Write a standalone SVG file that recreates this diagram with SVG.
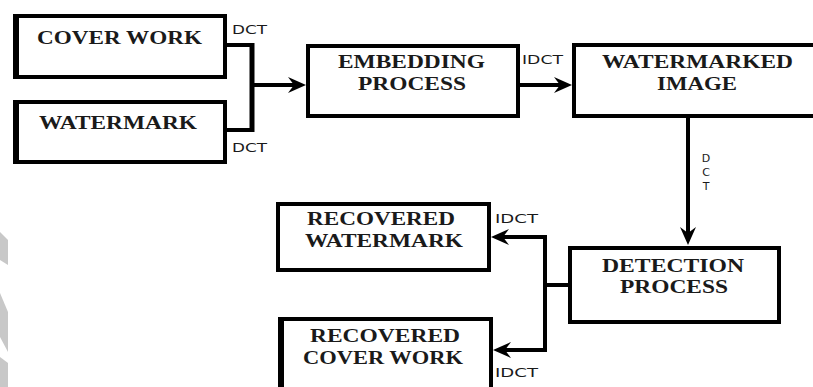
<svg xmlns="http://www.w3.org/2000/svg" width="813" height="387" viewBox="0 0 813 387">
  <style>
    .box { fill: #ffffff; stroke: #000000; stroke-width: 4; }
    .edge { stroke: #000000; stroke-width: 6; }
    .lbl { font-family: "Liberation Serif", "Times New Roman", serif; font-weight: bold; font-size: 18px; fill: #1a1a1a; }
    .tag { font-family: "DejaVu Sans", "Liberation Sans", sans-serif; font-size: 12px; fill: #1a1a1a; }
    .vtag { font-family: "DejaVu Sans", "Liberation Sans", sans-serif; font-size: 11px; fill: #1a1a1a; }
    .wire { fill: none; stroke: #000000; stroke-width: 4; }
    .bus { fill: none; stroke: #000000; stroke-width: 5; }
    .deco { fill: #c8c8c8; }
  </style>
  <defs>
    <marker id="arr" viewBox="-14 -10 22 20" refX="0" refY="0" markerWidth="22" markerHeight="20" markerUnits="userSpaceOnUse" orient="auto">
      <path d="M6,0 L-12,-8 L-6,0 L-12,8 z" fill="#000000"/>
    </marker>
  </defs>
  <rect width="813" height="387" fill="#ffffff"/>

  <g id="decoration">
    <polygon class="deco" points="0,232 8,240 8,265 0,260"/>
    <polygon class="deco" points="0,293 8,312 8,352 0,337"/>
    <polygon class="deco" points="0,357 8,363 8,387 0,387"/>
  </g>

  <g id="connectors">
    <path class="wire" d="M227,45 H252"/>
    <path class="wire" d="M227,130 H252"/>
    <path class="bus" d="M252,43 V132"/>
    <path class="wire" d="M252,85 H300" marker-end="url(#arr)"/>
    <path class="wire" d="M520,85 H566" marker-end="url(#arr)"/>
    <path class="wire" d="M688,118 V239" marker-end="url(#arr)"/>
    <path class="wire" d="M568,285 H545"/>
    <path class="wire" d="M545,235 V352"/>
    <path class="wire" d="M547,237 H497" marker-end="url(#arr)"/>
    <path class="wire" d="M547,350 H499" marker-end="url(#arr)"/>
    <text class="tag" x="232" y="34" textLength="35" lengthAdjust="spacingAndGlyphs">DCT</text>
    <text class="tag" x="232" y="152" textLength="35" lengthAdjust="spacingAndGlyphs">DCT</text>
    <text class="tag" x="522" y="64" textLength="41" lengthAdjust="spacingAndGlyphs">IDCT</text>
    <text class="vtag" x="706" y="162" text-anchor="middle">D</text>
    <text class="vtag" x="706" y="176" text-anchor="middle">C</text>
    <text class="vtag" x="706" y="190" text-anchor="middle">T</text>
    <text class="tag" x="495" y="223" textLength="43" lengthAdjust="spacingAndGlyphs">IDCT</text>
    <text class="tag" x="495" y="377" textLength="43" lengthAdjust="spacingAndGlyphs">IDCT</text>
  </g>

  <g id="cover-work">
    <rect class="box" x="15" y="16" width="210" height="61"/>
    <line class="edge" x1="16" y1="14" x2="16" y2="79"/>
    <text class="lbl" x="37" y="44" textLength="165" lengthAdjust="spacingAndGlyphs">COVER WORK</text>
  </g>

  <g id="watermark">
    <rect class="box" x="15" y="102" width="210" height="60"/>
    <line class="edge" x1="16" y1="100" x2="16" y2="164"/>
    <text class="lbl" x="39" y="129" textLength="158" lengthAdjust="spacingAndGlyphs">WATERMARK</text>
  </g>

  <g id="embedding-process">
    <rect class="box" x="308" y="46" width="210" height="70"/>
    <text class="lbl" x="338" y="68" textLength="147" lengthAdjust="spacingAndGlyphs">EMBEDDING</text>
    <text class="lbl" x="358" y="90" textLength="108" lengthAdjust="spacingAndGlyphs">PROCESS</text>
  </g>

  <g id="watermarked-image">
    <rect class="box" x="574" y="45" width="250" height="71"/>
    <text class="lbl" x="602" y="68" textLength="191" lengthAdjust="spacingAndGlyphs">WATERMARKED</text>
    <text class="lbl" x="657" y="90" textLength="80" lengthAdjust="spacingAndGlyphs">IMAGE</text>
  </g>

  <g id="detection-process">
    <rect class="box" x="570" y="248" width="209" height="74"/>
    <text class="lbl" x="602" y="272" textLength="142" lengthAdjust="spacingAndGlyphs">DETECTION</text>
    <text class="lbl" x="620" y="293" textLength="108" lengthAdjust="spacingAndGlyphs">PROCESS</text>
  </g>

  <g id="recovered-watermark">
    <rect class="box" x="278" y="204" width="211" height="66"/>
    <text class="lbl" x="307" y="225" textLength="148" lengthAdjust="spacingAndGlyphs">RECOVERED</text>
    <text class="lbl" x="305" y="247" textLength="158" lengthAdjust="spacingAndGlyphs">WATERMARK</text>
  </g>

  <g id="recovered-cover-work">
    <rect class="box" x="280" y="319" width="211" height="80"/>
    <line class="edge" x1="281" y1="317" x2="281" y2="400"/>
    <text class="lbl" x="310" y="342" textLength="150" lengthAdjust="spacingAndGlyphs">RECOVERED</text>
    <text class="lbl" x="303" y="364" textLength="160" lengthAdjust="spacingAndGlyphs">COVER WORK</text>
  </g>
</svg>
